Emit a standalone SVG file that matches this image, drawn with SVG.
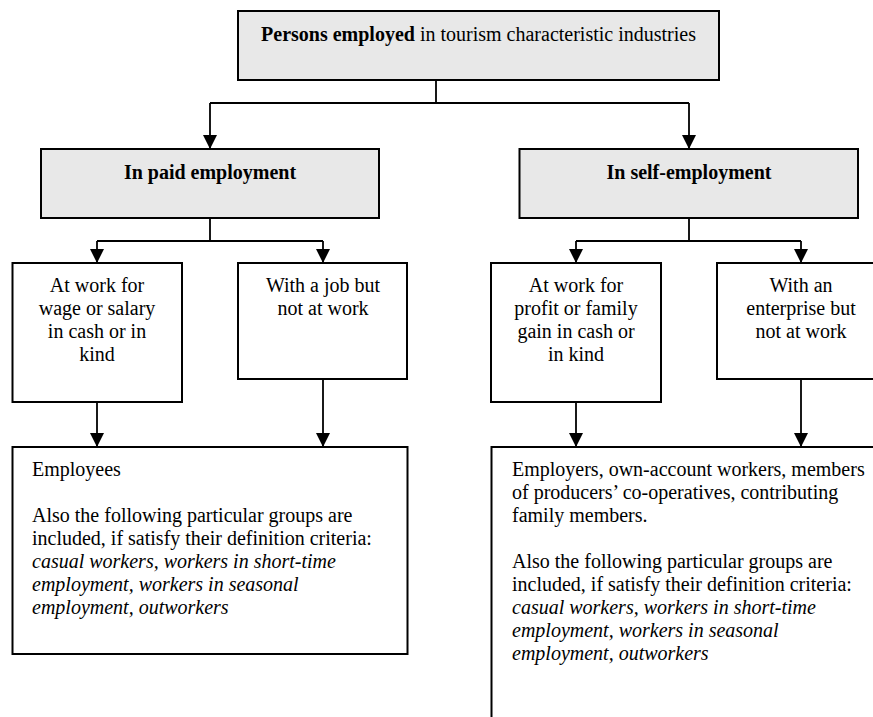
<svg xmlns="http://www.w3.org/2000/svg" width="873" height="717" viewBox="0 0 873 717">
<defs>
<style>
.box{fill:#ffffff;stroke:#000;stroke-width:2}
.grey{fill:#e8e8e8}
.t{font-family:"Liberation Serif","Times New Roman",serif;font-size:20px;fill:#000}
.c{text-anchor:middle}
.b{font-weight:bold}
.i{font-style:italic}
.conn{fill:none;stroke:#000;stroke-width:1.8}
</style>
<marker id="arr" markerUnits="userSpaceOnUse" markerWidth="14" markerHeight="15" refX="14" refY="7" orient="auto" viewBox="0 0 14 14">
<path d="M0,0 L14,7 L0,14 Z" fill="#000"/>
</marker>
</defs>
<rect width="873" height="717" fill="#ffffff"/>
<g id="connectors">
<path class="conn" d="M436,80 V103 M210,103 H689"/>
<path class="conn" d="M210,103 V149" marker-end="url(#arr)"/>
<path class="conn" d="M689,103 V149" marker-end="url(#arr)"/>
<path class="conn" d="M210,218 V241 M97,241 H323"/>
<path class="conn" d="M97,241 V263" marker-end="url(#arr)"/>
<path class="conn" d="M323,241 V263" marker-end="url(#arr)"/>
<path class="conn" d="M689,218 V241 M576,241 H801"/>
<path class="conn" d="M576,241 V263" marker-end="url(#arr)"/>
<path class="conn" d="M801,241 V263" marker-end="url(#arr)"/>
<path class="conn" d="M97,402 V447" marker-end="url(#arr)"/>
<path class="conn" d="M323,379 V447" marker-end="url(#arr)"/>
<path class="conn" d="M576,402 V447" marker-end="url(#arr)"/>
<path class="conn" d="M801,379 V447" marker-end="url(#arr)"/>
</g>
<g id="top">
<rect class="box grey" x="238" y="11" width="481" height="69"/>
<text class="t c" x="478.5" y="41"><tspan class="b">Persons employed</tspan> in tourism characteristic industries</text>
</g>
<g id="paid">
<rect class="box grey" x="41" y="149" width="338" height="69"/>
<text class="t c b" x="210" y="179">In paid employment</text>
</g>
<g id="self">
<rect class="box grey" x="519.5" y="149" width="338.5" height="69"/>
<text class="t c b" x="689" y="179">In self-employment</text>
</g>
<g id="wage">
<rect class="box" x="12.5" y="263" width="169.5" height="139"/>
<text class="t c" x="97" y="292">At work for</text>
<text class="t c" x="97" y="315">wage or salary</text>
<text class="t c" x="97" y="338">in cash or in</text>
<text class="t c" x="97" y="361">kind</text>
</g>
<g id="job">
<rect class="box" x="238" y="263" width="169" height="116"/>
<text class="t c" x="323" y="292">With a job but</text>
<text class="t c" x="323" y="315">not at work</text>
</g>
<g id="profit">
<rect class="box" x="491" y="263" width="170" height="139"/>
<text class="t c" x="576" y="292">At work for</text>
<text class="t c" x="576" y="315">profit or family</text>
<text class="t c" x="576" y="338">gain in cash or</text>
<text class="t c" x="576" y="361">in kind</text>
</g>
<g id="enterprise">
<rect class="box" x="717" y="263" width="170" height="116"/>
<text class="t c" x="801" y="292">With an</text>
<text class="t c" x="801" y="315">enterprise but</text>
<text class="t c" x="801" y="338">not at work</text>
</g>
<g id="employees">
<rect class="box" x="12.5" y="447" width="395" height="207"/>
<text class="t" x="32" y="475.5">Employees</text>
<text class="t" x="32" y="521.5">Also the following particular groups are</text>
<text class="t" x="32" y="544.5">included, if satisfy their definition criteria:</text>
<text class="t i" x="32" y="567.5">casual workers, workers in short-time</text>
<text class="t i" x="32" y="590.5">employment, workers in seasonal</text>
<text class="t i" x="32" y="613.5">employment, outworkers</text>
</g>
<g id="employers">
<rect class="box" x="491.5" y="447" width="400" height="290"/>
<text class="t" x="512" y="475.5">Employers, own-account workers, members</text>
<text class="t" x="512" y="498.5">of producers’ co-operatives, contributing</text>
<text class="t" x="512" y="521.5">family members.</text>
<text class="t" x="512" y="567.5">Also the following particular groups are</text>
<text class="t" x="512" y="590.5">included, if satisfy their definition criteria:</text>
<text class="t i" x="512" y="613.5">casual workers, workers in short-time</text>
<text class="t i" x="512" y="636.5">employment, workers in seasonal</text>
<text class="t i" x="512" y="659.5">employment, outworkers</text>
</g>
</svg>
